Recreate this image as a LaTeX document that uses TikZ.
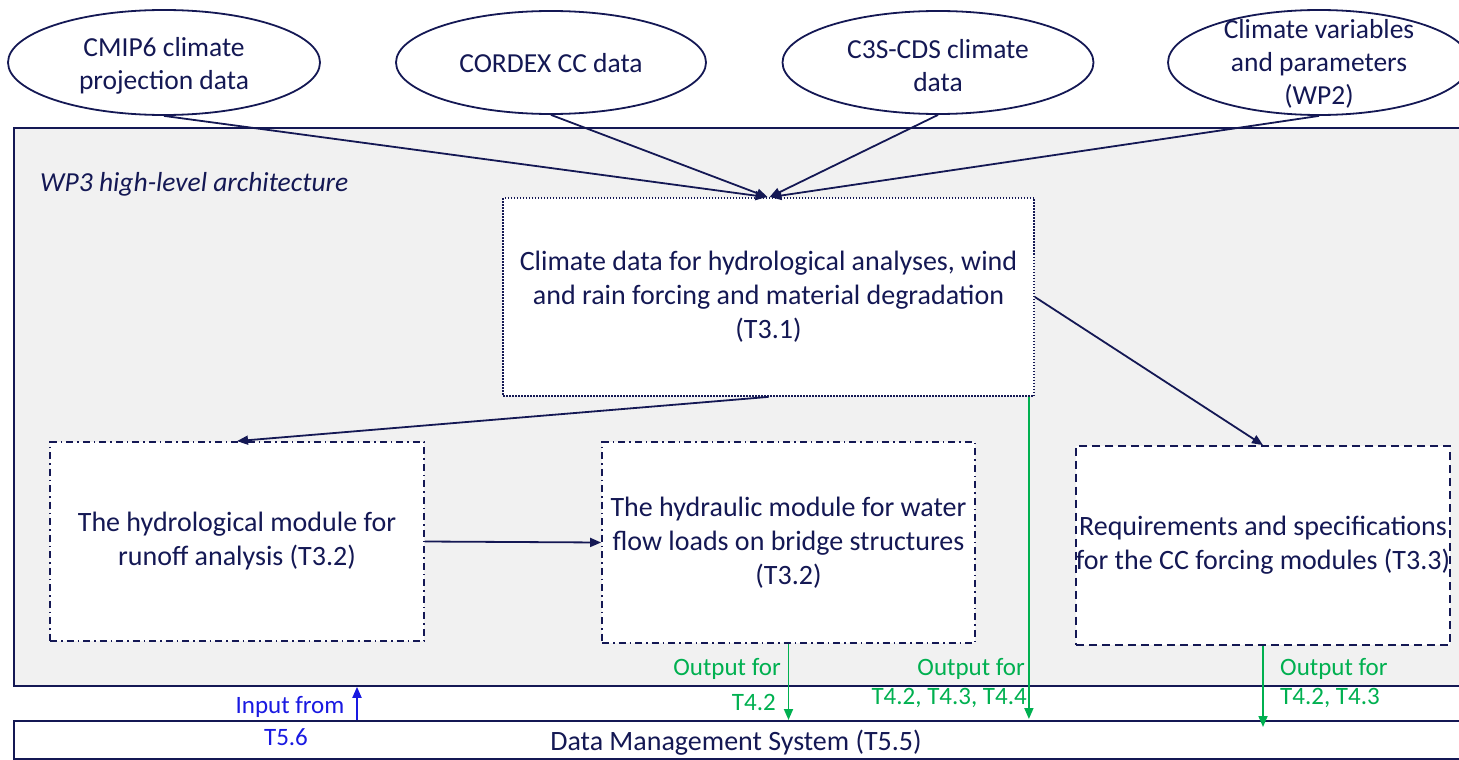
\documentclass[tikz,border=0pt]{standalone}
\usepackage{fontspec}
\setmainfont{Carlito}
\usetikzlibrary{arrows.meta,calc,shapes.geometric}
\definecolor{navy}{RGB}{20,24,84}
\definecolor{outgreen}{RGB}{0,176,80}
\definecolor{inblue}{RGB}{25,25,225}
\definecolor{panel}{RGB}{241,241,241}
\tikzset{
  source/.style={ellipse,draw=navy,line width=1.8pt,fill=white,inner sep=0pt},
  srctext/.style={text=navy,font=\fontsize{27.5}{33}\selectfont,align=center},
  module/.style={draw=navy,line width=1.8pt,fill=white,text=navy,align=center,
    font=\fontsize{28}{34}\selectfont,inner sep=0pt},
  dotbox/.style={module,dash pattern=on 1.5pt off 1.5pt},
  dashdotbox/.style={module,dash pattern=on 7pt off 4pt on 1.5pt off 4pt},
  dashbox/.style={module,dash pattern=on 8pt off 5pt},
  flow/.style={navy,line width=1.8pt,-{Triangle[length=11pt,width=9pt]}},
  outflow/.style={outgreen,line width=1.8pt,-{Triangle[length=11pt,width=9pt]}},
  inflow/.style={inblue,line width=1.8pt,-{Triangle[length=11pt,width=9pt]}},
  outlabel/.style={text=outgreen,font=\fontsize{25}{30}\selectfont,inner sep=0pt},
  inlabel/.style={text=inblue,font=\fontsize{25}{30}\selectfont,inner sep=0pt}
}
\begin{document}
\begin{tikzpicture}[x=1pt,y=-1pt]
\useasboundingbox (0,0) rectangle (1459,760);
\clip (0,0) rectangle (1459,760);

% architecture panel
\node[draw=navy,line width=1.8pt,fill=panel,minimum width=1470pt,minimum height=558pt,
  anchor=north west,inner sep=0pt] (panel) at (13,127) {};
\node[anchor=west,text=navy,font=\fontsize{27.5}{32}\selectfont\itshape,inner sep=0pt]
  (title) at (40,184) {WP3 high-level architecture};

% data management system bar
\node[draw=navy,line width=1.8pt,fill=white,minimum width=1470pt,minimum height=38pt,
  anchor=north west,inner sep=0pt] (dms) at (13,720) {};
\node[text=navy,font=\fontsize{28}{34}\selectfont,inner sep=0pt] (dmstext) at (736,743)
  {Data Management System (T5.5)};

% data sources
\node[source,minimum width=312pt,minimum height=105pt,
  label={[srctext,yshift=-3pt]center:CMIP6 climate\\projection data}] (cmip) at (164,62.5) {};
\node[source,minimum width=310pt,minimum height=103pt,
  label={[srctext,yshift=-1pt]center:CORDEX CC data}] (cordex) at (551,62.5) {};
\node[source,minimum width=311pt,minimum height=103pt,
  label={[srctext,yshift=-3pt]center:C3S-CDS climate\\data}] (c3s) at (938,62.5) {};
\node[source,minimum width=302pt,minimum height=105pt,
  label={[srctext,yshift=-1pt]center:Climate variables\\and parameters\\(WP2)}] (wp2) at (1319,62.5) {};

% modules
\node[dotbox,minimum width=531pt,minimum height=198pt] (t31) at (768.5,297)
  {Climate data for hydrological analyses, wind\\and rain forcing and material degradation\\(T3.1)};
\node[dashdotbox,minimum width=374pt,minimum height=199pt] (hydro) at (237,541.5)
  {The hydrological module for\\runoff analysis (T3.2)};
\node[dashdotbox,minimum width=373pt,minimum height=201pt] (hydra) at (788.5,542.5)
  {The hydraulic module for water\\flow loads on bridge structures\\(T3.2)};
\node[dashbox,minimum width=374pt,minimum height=199pt] (req) at (1263,545.5)
  {Requirements and specifications\\for the CC forcing modules (T3.3)};

% inputs to T3.1
\draw[flow] (cmip.south) -- ([xshift=-2pt]t31.north);
\draw[flow] (cordex.south) -- ([xshift=-1pt]t31.north);
\draw[flow] (c3s.south) -- ([xshift=1pt]t31.north);
\draw[flow] (wp2.south) -- ([xshift=2pt]t31.north);

% flows between modules
\draw[flow] (t31.south) -- (hydro.north);
\draw[flow] (t31.east) -- (req.north);
\draw[flow] (hydro.east) -- (hydra.west);

% outputs to the data management system
\coordinate (o1) at (hydra.south |- dms.north);
\draw[outflow] (hydra.south) -- (o1);
\coordinate (o2top) at ([xshift=-6pt]t31.south east);
\coordinate (o2) at ($(o2top |- dms.north)+(0,-1)$);
\draw[outflow] (o2top) -- (o2);
\coordinate (o3) at ($(req.south |- dms.north)+(0,7)$);
\draw[outflow] (req.south) -- (o3);

% input from T5.6
\coordinate (i1) at (357,720);
\draw[inflow] (i1) -- (i1 |- panel.south);

% flow labels
\node[outlabel,anchor=east] (l1a) at (781,669) {Output for};
\node[outlabel,anchor=east] (l1b) at (776,702) {T4.2};
\node[outlabel,anchor=east] (l2a) at (1025,669) {Output for};
\node[outlabel,anchor=east] (l2b) at (1027,698) {T4.2, T4.3, T4.4};
\node[outlabel,anchor=west] (l3a) at (1280,669) {Output for};
\node[outlabel,anchor=west] (l3b) at (1280,698) {T4.2, T4.3};
\node[inlabel] (inla) at (290,707) {Input from};
\node[inlabel] (inlb) at (286,737) {T5.6};
\end{tikzpicture}
\end{document}
